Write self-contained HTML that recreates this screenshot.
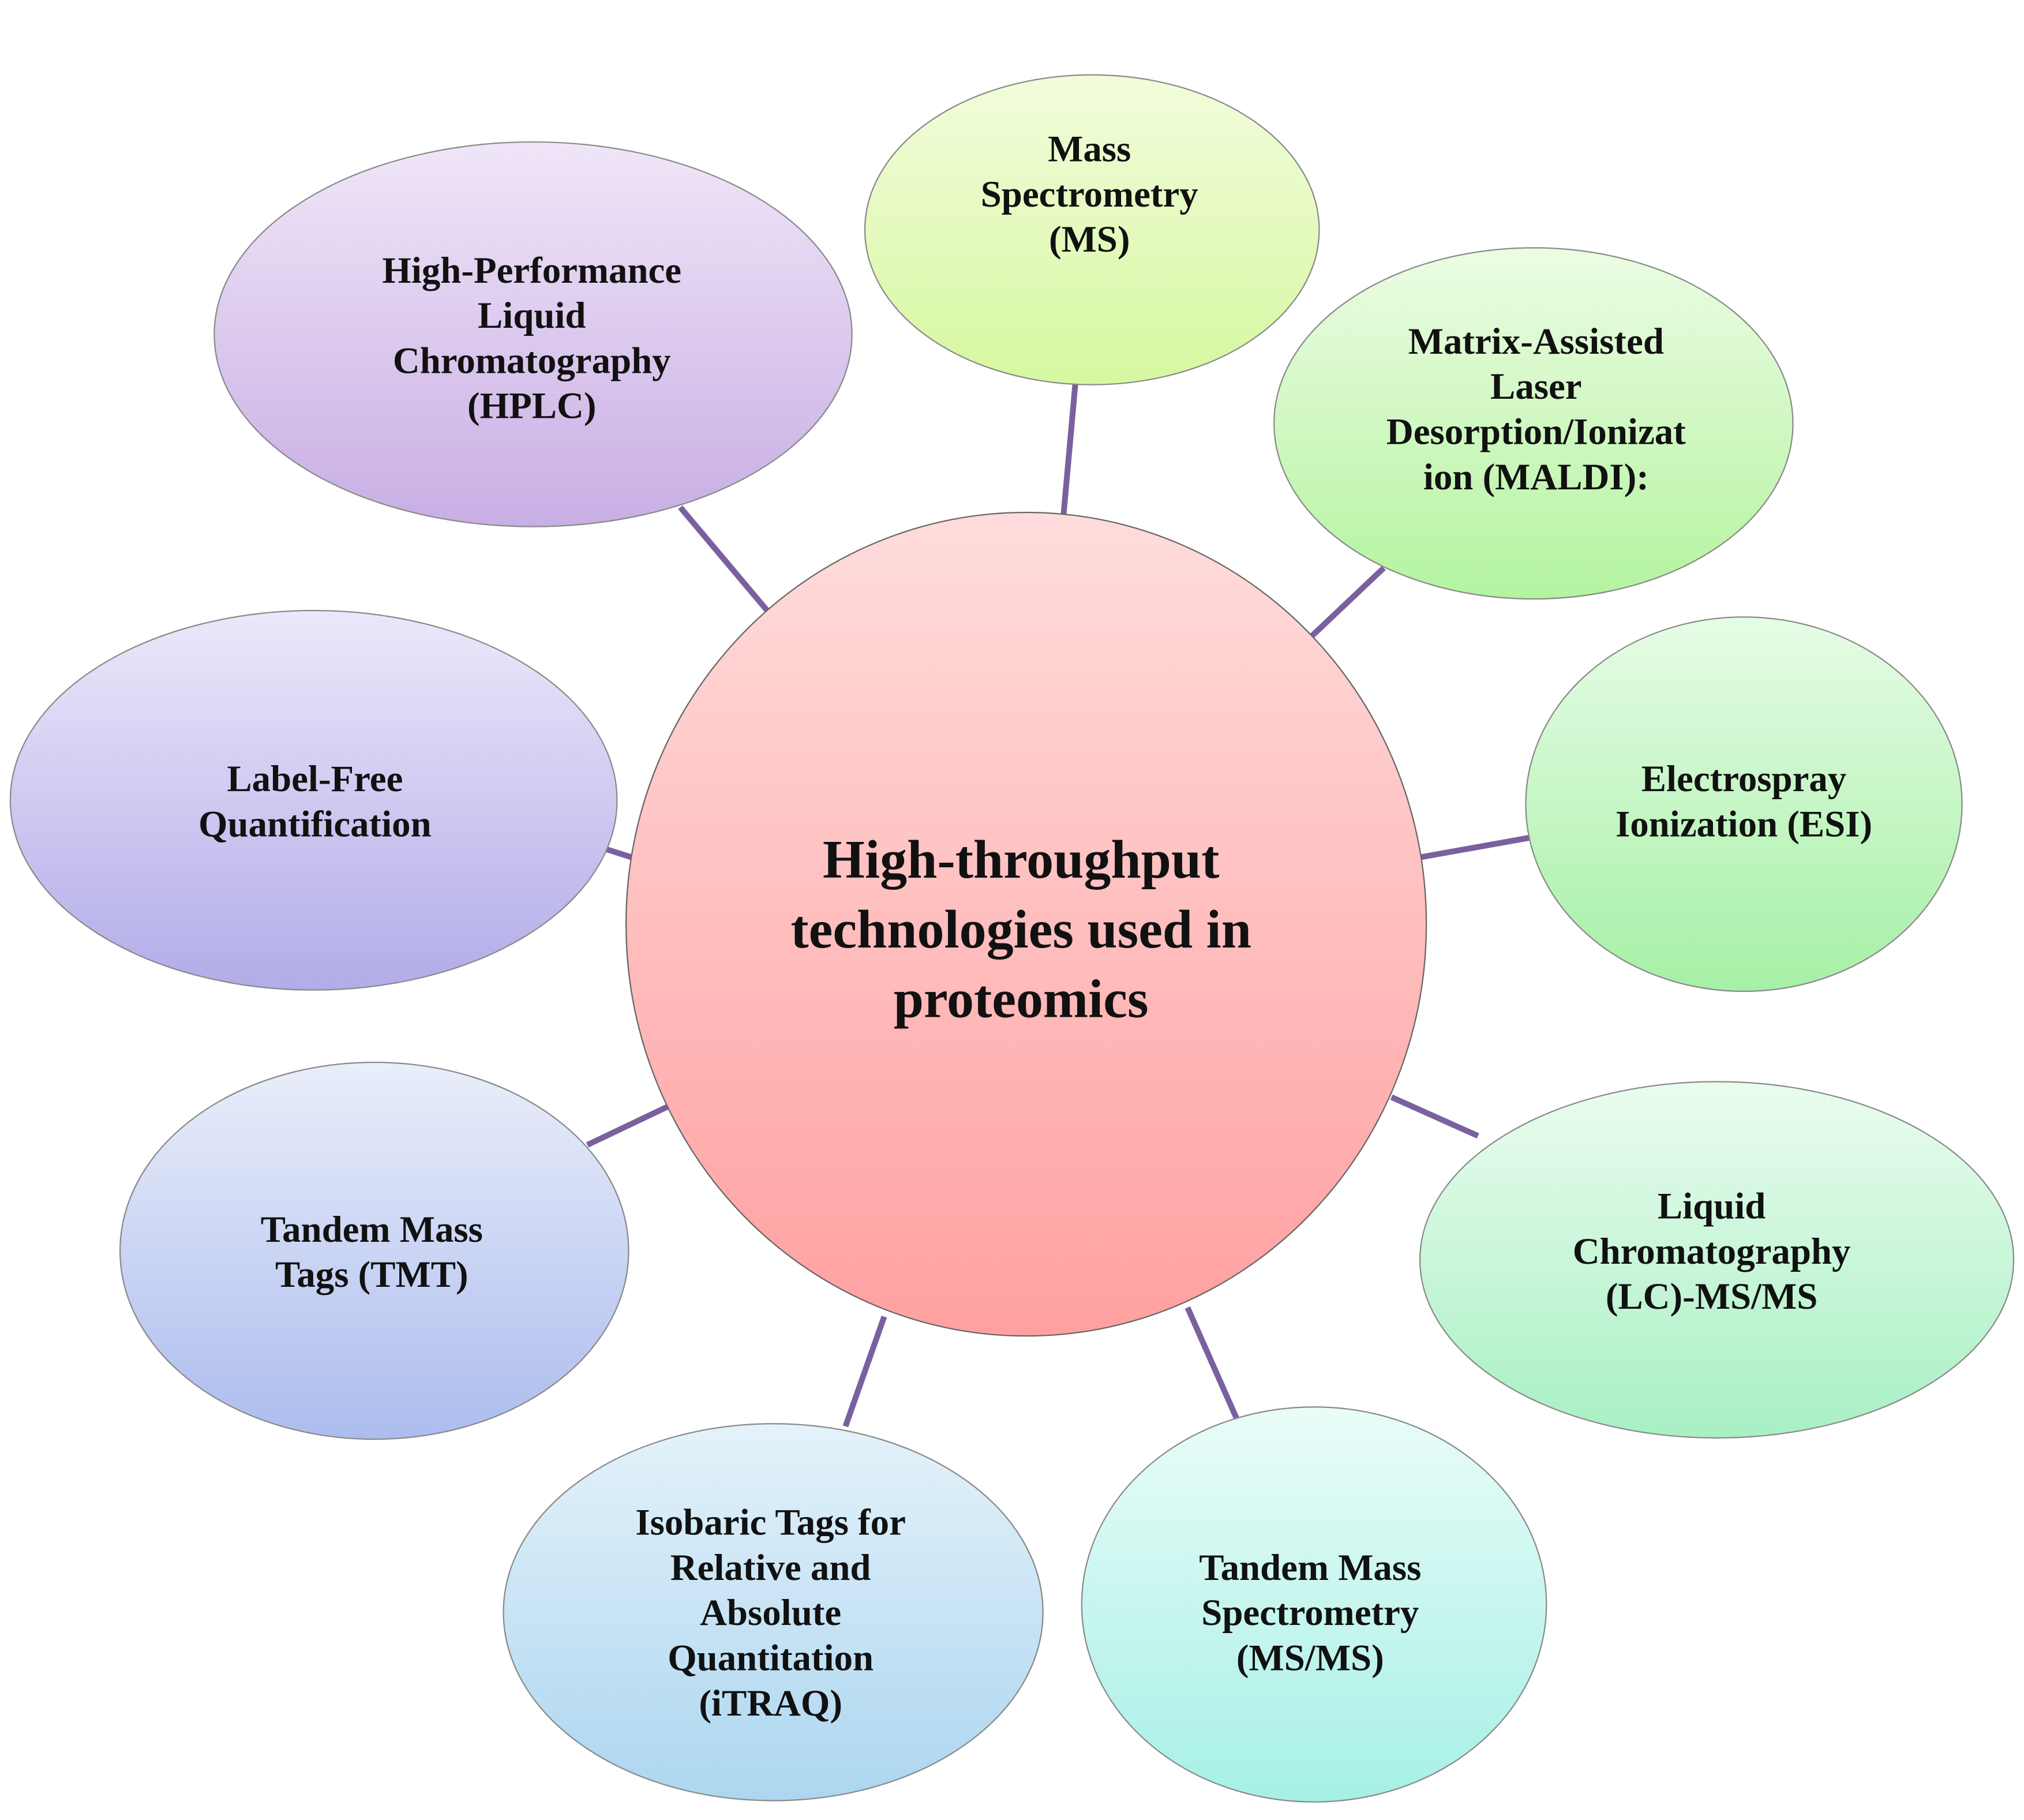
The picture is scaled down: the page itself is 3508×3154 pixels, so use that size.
<!DOCTYPE html>
<html><head><meta charset="utf-8"><style>html,body{margin:0;padding:0;background:#fff}svg{display:block}</style></head>
<body>
<svg width="3508" height="3154" viewBox="0 0 1568 1410" preserveAspectRatio="none" xmlns="http://www.w3.org/2000/svg">
<defs>
<linearGradient id="gc" x1="0" y1="0" x2="0" y2="1"><stop offset="0" stop-color="#ffdcdc"/><stop offset="1" stop-color="#ffa0a0"/></linearGradient>
<linearGradient id="g1" x1="0" y1="0" x2="0" y2="1"><stop offset="0" stop-color="#f2fcdc"/><stop offset="1" stop-color="#d6f8a0"/></linearGradient>
<linearGradient id="g2" x1="0" y1="0" x2="0" y2="1"><stop offset="0" stop-color="#ecfce4"/><stop offset="1" stop-color="#b4f4a0"/></linearGradient>
<linearGradient id="g3" x1="0" y1="0" x2="0" y2="1"><stop offset="0" stop-color="#e6fce6"/><stop offset="1" stop-color="#a6f0a6"/></linearGradient>
<linearGradient id="g4" x1="0" y1="0" x2="0" y2="1"><stop offset="0" stop-color="#eafcee"/><stop offset="1" stop-color="#a8f0c4"/></linearGradient>
<linearGradient id="g5" x1="0" y1="0" x2="0" y2="1"><stop offset="0" stop-color="#eafcf8"/><stop offset="1" stop-color="#a6f0e6"/></linearGradient>
<linearGradient id="g6" x1="0" y1="0" x2="0" y2="1"><stop offset="0" stop-color="#e4f2fa"/><stop offset="1" stop-color="#acd6f0"/></linearGradient>
<linearGradient id="g7" x1="0" y1="0" x2="0" y2="1"><stop offset="0" stop-color="#eaeefa"/><stop offset="1" stop-color="#acbcee"/></linearGradient>
<linearGradient id="g8" x1="0" y1="0" x2="0" y2="1"><stop offset="0" stop-color="#ece8fa"/><stop offset="1" stop-color="#b2ace8"/></linearGradient>
<linearGradient id="g9" x1="0" y1="0" x2="0" y2="1"><stop offset="0" stop-color="#f0e6f8"/><stop offset="1" stop-color="#c8aee4"/></linearGradient>
</defs>
<g stroke="#7b609f" stroke-width="4.5" stroke-linecap="butt">
<line x1="833" y1="298" x2="824" y2="398"/>
<line x1="1072" y1="440" x2="1016" y2="493"/>
<line x1="1185" y1="649" x2="1101" y2="664"/>
<line x1="1145" y1="880" x2="1078" y2="850"/>
<line x1="962" y1="1108" x2="920" y2="1013"/>
<line x1="655" y1="1105" x2="685" y2="1020"/>
<line x1="455" y1="887" x2="518" y2="857"/>
<line x1="470" y1="658" x2="492" y2="665"/>
<line x1="527" y1="393" x2="596" y2="475"/>
</g>
<g stroke="#8a8a8a" stroke-width="1">
<ellipse cx="795" cy="716" rx="310" ry="319" fill="url(#gc)" stroke="#666"/>
<ellipse cx="846" cy="178" rx="176" ry="120" fill="url(#g1)"/>
<ellipse cx="1188" cy="328" rx="201" ry="136" fill="url(#g2)"/>
<ellipse cx="1351" cy="623" rx="169" ry="145" fill="url(#g3)"/>
<ellipse cx="1330" cy="976" rx="230" ry="138" fill="url(#g4)"/>
<ellipse cx="1018" cy="1243" rx="180" ry="153" fill="url(#g5)"/>
<ellipse cx="599" cy="1249" rx="209" ry="146" fill="url(#g6)"/>
<ellipse cx="290" cy="969" rx="197" ry="146" fill="url(#g7)"/>
<ellipse cx="243" cy="620" rx="235" ry="147" fill="url(#g8)"/>
<ellipse cx="413" cy="259" rx="247" ry="149" fill="url(#g9)"/>
</g>
<g font-family="Liberation Serif, serif" font-weight="bold" fill="#111" text-anchor="middle" font-size="29">
<text x="791" y="680" font-size="42"><tspan x="791">High-throughput</tspan><tspan x="791" dy="54">technologies used in</tspan><tspan x="791" dy="54">proteomics</tspan></text>
<text y="125"><tspan x="844">Mass</tspan><tspan x="844" dy="35">Spectrometry</tspan><tspan x="844" dy="35">(MS)</tspan></text>
<text y="274"><tspan x="1190">Matrix-Assisted</tspan><tspan x="1190" dy="35">Laser</tspan><tspan x="1190" dy="35">Desorption/Ionizat</tspan><tspan x="1190" dy="35">ion (MALDI):</tspan></text>
<text y="613"><tspan x="1351">Electrospray</tspan><tspan x="1351" dy="35">Ionization (ESI)</tspan></text>
<text y="944"><tspan x="1326">Liquid</tspan><tspan x="1326" dy="35">Chromatography</tspan><tspan x="1326" dy="35">(LC)-MS/MS</tspan></text>
<text y="1224"><tspan x="1015">Tandem Mass</tspan><tspan x="1015" dy="35">Spectrometry</tspan><tspan x="1015" dy="35">(MS/MS)</tspan></text>
<text y="1189"><tspan x="597">Isobaric Tags for</tspan><tspan x="597" dy="35">Relative and</tspan><tspan x="597" dy="35">Absolute</tspan><tspan x="597" dy="35">Quantitation</tspan><tspan x="597" dy="35">(iTRAQ)</tspan></text>
<text y="962"><tspan x="288">Tandem Mass</tspan><tspan x="288" dy="35">Tags (TMT)</tspan></text>
<text y="613"><tspan x="244">Label-Free</tspan><tspan x="244" dy="35">Quantification</tspan></text>
<text y="219"><tspan x="412">High-Performance</tspan><tspan x="412" dy="35">Liquid</tspan><tspan x="412" dy="35">Chromatography</tspan><tspan x="412" dy="35">(HPLC)</tspan></text>
</g>
</svg>
</body></html>
